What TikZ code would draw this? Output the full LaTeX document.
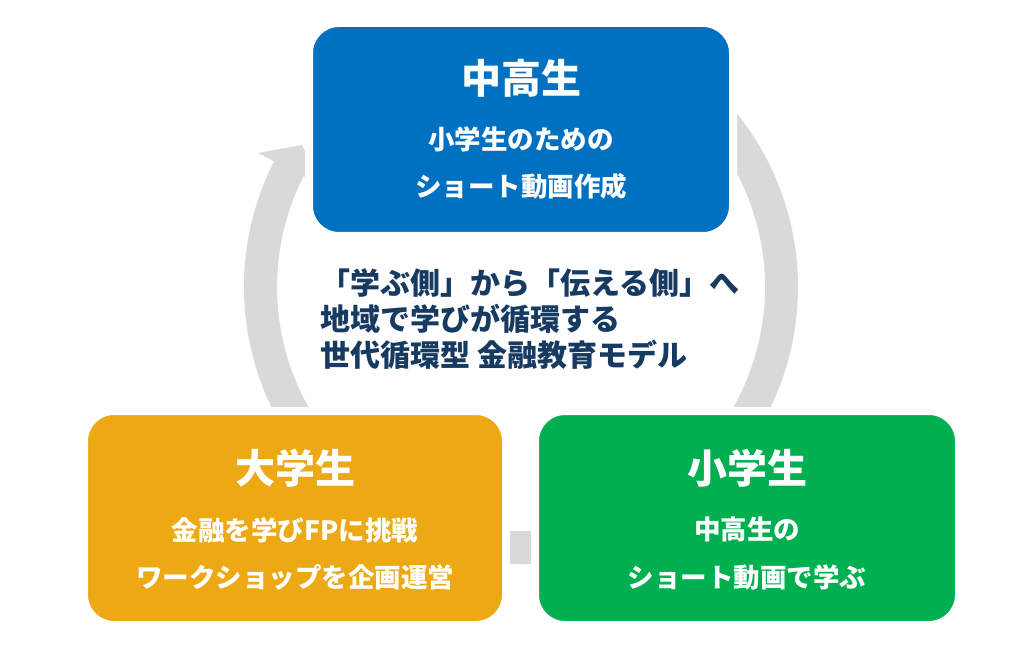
\documentclass[tikz,border=0pt]{standalone}
\usepackage{fontspec}
\usetikzlibrary{calc}
\setmainfont{Noto Sans CJK JP}
\definecolor{cblue}{HTML}{0070C0}
\definecolor{corange}{HTML}{ECA914}
\definecolor{cgreen}{HTML}{00B050}
\definecolor{cgray}{HTML}{D9D9D9}
\definecolor{cnavy}{HTML}{163A62}
\begin{document}
\begin{tikzpicture}[x=1pt,y=-1pt,
  box/.style={draw=white, line width=8pt, rounded corners=30pt, inner sep=0pt},
  ttl/.style={text=white, inner sep=0pt, font=\fontsize{40}{48}\selectfont\bfseries},
  sub/.style={text=white, inner sep=0pt, font=\fontsize{26.5}{32}\selectfont\bfseries},
  msg/.style={text=cnavy, inner sep=0pt, align=left, font=\fontsize{30}{36}\selectfont\bfseries}]
\fill[white] (0,0) rectangle (1034,647);
\useasboundingbox (0,0) rectangle (1034,647);
\coordinate (c) at (521,287);
% ring arrow
\fill[cgray] ($(c)+(207:277)$) arc[start angle=207, end angle=-70, radius=277]
  -- ($(c)+(-70:244)$) arc[start angle=-70, end angle=207, radius=244]
  -- ($(c)+(207:226)$) -- ($(c)+(213:261)$) -- ($(c)+(207:295)$) -- cycle;
% boxes
\node[box, fill=cblue, minimum width=424pt, minimum height=213pt] (top) at (521,129.5) {};
\node[box, fill=corange, minimum width=422pt, minimum height=214pt] (left) at (295,518) {};
\node[box, fill=cgreen, minimum width=424pt, minimum height=214pt] (right) at (747,518) {};
% texts
\node[ttl] (t1) at (521,78) {中高生};
\node[sub] (t2) at (521,139.5) {小学生のための};
\node[sub] (t3) at (521,186) {ショート動画作成};
\node[ttl] (l1) at (295,468) {大学生};
\node[sub] (l2) at (295,530) {金融を学びFPに挑戦};
\node[sub] (l3) at (295,577) {ワークショップを企画運営};
\node[ttl] (r1) at (747,468) {小学生};
\node[sub] (r2) at (747,529) {中高生の};
\node[sub] (r3) at (747,577) {ショート動画で学ぶ};
\node[msg, anchor=west] (m) at (320,319) {「学ぶ側」から「伝える側」へ\\地域で学びが循環する\\世代循環型 金融教育モデル};
\end{tikzpicture}
\end{document}
